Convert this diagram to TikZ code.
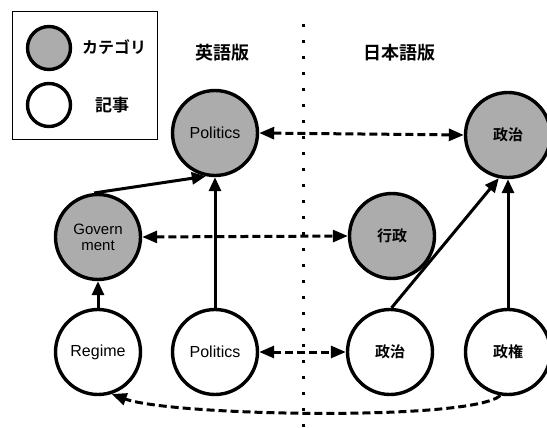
\documentclass[tikz,border=0pt]{standalone}
\usepackage{fontspec}
\setmainfont{Liberation Sans}
\newfontfamily\jp{Noto Sans CJK JP}[BoldFont={Noto Sans CJK JP Bold}]
\usetikzlibrary{arrows.meta}
\definecolor{catgray}{RGB}{172,172,172}
\begin{document}
\begin{tikzpicture}[x=1pt,y=-1pt,
  circ/.style={circle,draw,line width=3.4pt,minimum size=85pt,inner sep=0pt,font=\fontsize{16}{17}\selectfont,align=center},
  cat/.style={circ,fill=catgray},
  art/.style={circ,fill=white},
  jtext/.style={font=\jp\bfseries\fontsize{15}{16}\selectfont},
  solidarrow/.style={line width=3pt,-{Triangle[length=14pt,width=12pt]}},
  dasharrow/.style={line width=3pt,dash pattern=on 8pt off 4pt,{Triangle[length=15pt,width=12pt]}-{Triangle[length=15pt,width=12pt]}},
  dashone/.style={line width=3pt,dash pattern=on 8pt off 4pt,-{Triangle[length=15pt,width=12pt]}},
  legcirc/.style={circle,draw,line width=3.4pt,minimum size=43pt,inner sep=0pt},
  heading/.style={font=\jp\bfseries\fontsize{18}{19}\selectfont}
]
\useasboundingbox (0,0) rectangle (547,428);
% divider
\draw[line width=3pt,dash pattern=on 3pt off 13pt] (303,24) -- (303,428);
% legend
\draw[line width=0.8pt] (12,11) rectangle (157,139);
\node[legcirc,fill=catgray] (lcat) at (49,48) {};
\node[legcirc,fill=white] (lart) at (49,105) {};
\node[font=\jp\bfseries\fontsize{16}{17}\selectfont] (lcattext) at (114,47) {カテゴリ};
\node[font=\jp\bfseries\fontsize{17}{18}\selectfont] (larttext) at (112,105) {記事};
% headings
\node[heading] (en) at (222,53) {英語版};
\node[heading] (ja) at (399,53) {日本語版};
% nodes
\node[cat] (polcat) at (215,133) {Politics};
\node[cat,jtext] (seijicat) at (508,135) {政治};
\node[cat,font=\fontsize{15}{16}\selectfont] (gov) at (98,237) {Govern\\ment};
\node[cat,jtext] (gyosei) at (392,236) {行政};
\node[art] (regime) at (98,352) {Regime};
\node[art] (polart) at (215,352) {Politics};
\node[art,jtext] (seijiart) at (390,352) {政治};
\node[art,jtext] (seiken) at (508,352) {政権};
% solid arrows
\draw[solidarrow] (gov.95) -- (polcat.-102);
\draw[solidarrow] (polart.north) -- (polcat.south);
\draw[solidarrow] (regime.north) -- (gov.south);
\draw[solidarrow] (seijiart.88) -- (seijicat.-102);
\draw[solidarrow] (seiken.north) -- (seijicat.south);
% dashed arrows
\draw[dasharrow] (polcat.east) -- (seijicat.west);
\draw[dasharrow] (gov.east) -- (gyosei.west);
\draw[dasharrow] (polart.east) -- (seijiart.west);
\draw[dashone] (seiken.-100) .. controls +(-30,26) and +(60,22) .. (regime.-72);
\end{tikzpicture}
\end{document}
